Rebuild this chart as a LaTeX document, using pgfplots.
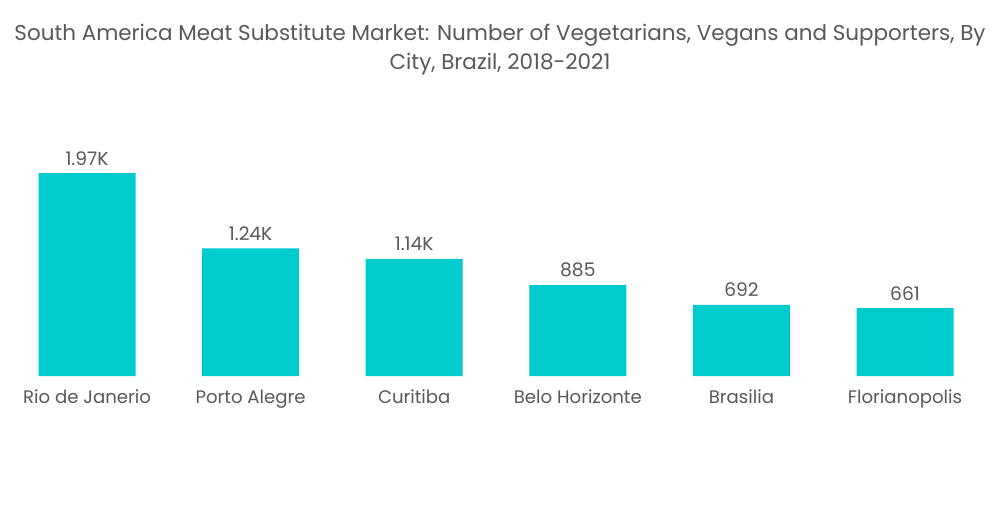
\documentclass[border=0pt]{standalone}
\usepackage{pgfplots}
\pgfplotsset{compat=1.18}
\usepackage{fontspec}
\setmainfont{Poppins}
\definecolor{barc}{RGB}{0,204,206}
\definecolor{txt}{RGB}{88,88,88}
\begin{document}
\begin{tikzpicture}[x=0.75pt,y=0.75pt]
\path (0,0) rectangle (1000,504);
\node[txt,font=\fontsize{16.1}{19}\selectfont] at (500,469) {South America Meat Substitute Market: Number of Vegetarians, Vegans and Supporters, By};
\node[txt,font=\fontsize{16.1}{19}\selectfont] at (500,440) {City, Brazil, 2018-2021};
\begin{axis}[
  at={(3.2,124)}, anchor=south west,
  scale only axis, width=736.2pt, height=177.75pt,
  xmin=-0.5, xmax=5.5, ymin=0, ymax=2300,
  axis line style={draw=none}, ytick=\empty,
  xtick={0,1,2,3,4,5}, major tick length=0pt,
  xticklabels={Rio de Janerio,Porto Alegre,Curitiba,Belo Horizonte,Brasilia,Florianopolis},
  xticklabel style={txt,font=\fontsize{13.6}{16}\selectfont,yshift=-6.5pt},
  ybar, bar width=0.593,
  nodes near coords, point meta=explicit symbolic,
  every node near coord/.append style={txt,font=\fontsize{14}{16}\selectfont,yshift=2.5pt},
  clip=false,
]
\addplot[fill=barc,draw=none] coordinates {(0,1970)[1.97K] (1,1240)[1.24K] (2,1140)[1.14K] (3,885)[885] (4,692)[692] (5,661)[661]};
\end{axis}
\end{tikzpicture}
\end{document}
